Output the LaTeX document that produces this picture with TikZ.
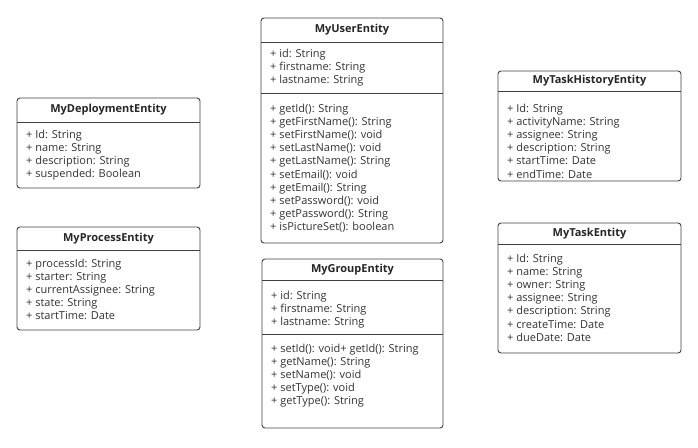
\documentclass[tikz,border=0pt]{standalone}
\usepackage{fontspec}
\setmainfont{Open Sans}
\begin{document}
\begin{tikzpicture}[x=1pt,y=-1pt,
  boxline/.style={draw=black!75, line width=0.9pt, rounded corners=3pt, fill=white},
  divline/.style={draw=black!75, line width=0.9pt},
  ttl/.style={font=\fontsize{11}{13}\selectfont\bfseries, text=black!85, inner sep=0pt, anchor=center},
  lst/.style={font=\fontsize{11}{13.1}\selectfont, text=black!80, inner sep=0pt, anchor=north west, align=left}]
\useasboundingbox (0,0) rectangle (698,447);
% MyUserEntity
\draw[boxline] (261,18) rectangle (443,243);
\draw[divline] (261,42) -- (443,42);
\draw[divline] (261,93) -- (443,93);
\node[ttl] (userT) at (352,30) {MyUserEntity};
\node[lst] (userA) at (270,49) {+ id: String\\+ firstname: String\\+ lastname: String};
\node[lst] (userM) at (270,104) {+ getId(): String\\+ getFirstName(): String\\+ setFirstName(): void\\+ setLastName(): void\\+ getLastName(): String\\+ setEmail(): void\\+ getEmail(): String\\+ setPassword(): void\\+ getPassword(): String\\+ isPictureSet(): boolean};
% MyDeploymentEntity
\draw[boxline] (17,98) rectangle (200,188);
\draw[divline] (17,122) -- (200,122);
\node[ttl] (depT) at (108.5,110) {MyDeploymentEntity};
\node[lst] (depA) at (26,130) {+ Id: String\\+ name: String\\+ description: String\\+ suspended: Boolean};
% MyProcessEntity
\draw[boxline] (17,227) rectangle (200,330);
\draw[divline] (17,250) -- (200,250);
\node[ttl] (procT) at (108.5,238.5) {MyProcessEntity};
\node[lst] (procA) at (26,259) {+ processId: String\\+ starter: String\\+ currentAssignee: String\\+ state: String\\+ startTime: Date};
% MyGroupEntity
\draw[boxline] (262,259) rectangle (443,428);
\draw[divline] (262,280) -- (443,280);
\draw[divline] (262,334) -- (443,334);
\node[ttl] (grpT) at (352.5,269.5) {MyGroupEntity};
\node[lst] (grpA) at (271,291) {+ id: String\\+ firstname: String\\+ lastname: String};
\node[lst] (grpM) at (271,344) {+ setId(): void+ getId(): String\\+ getName(): String\\+ setName(): void\\+ setType(): void\\+ getType(): String};
% MyTaskHistoryEntity
\draw[boxline] (498,71) rectangle (681,181);
\draw[divline] (498,91) -- (681,91);
\node[ttl] (histT) at (589.5,81) {MyTaskHistoryEntity};
\node[lst] (histA) at (507,104) {+ Id: String\\+ activityName: String\\+ assignee: String\\+ description: String\\+ startTime: Date\\+ endTime: Date};
% MyTaskEntity
\draw[boxline] (498,223) rectangle (681,353);
\draw[divline] (498,244) -- (681,244);
\node[ttl] (taskT) at (589.5,233.5) {MyTaskEntity};
\node[lst] (taskA) at (507,254) {+ Id: String\\+ name: String\\+ owner: String\\+ assignee: String\\+ description: String\\+ createTime: Date\\+ dueDate: Date};
\end{tikzpicture}
\end{document}
